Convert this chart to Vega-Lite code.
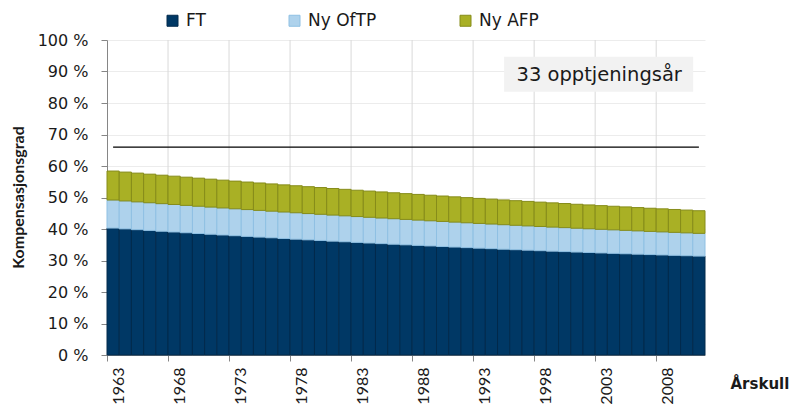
{
  "$schema": "https://vega.github.io/schema/vega-lite/v6.json",
  "autosize": "none",
  "width": 598,
  "height": 315,
  "padding": {"left": 107, "top": 40, "right": 88, "bottom": 55},
  "background": "white",
  "config": {
    "font": "DejaVu Sans",
    "view": {"stroke": null},
    "axis": {"labelColor": "#1a1a1a", "titleColor": "#1a1a1a"},
    "axisY": {"labelOverlap": false, "tickCount": 12}
  },
  "layer": [
    {
      "data": {"values": [{"g": 1968}, {"g": 1973}, {"g": 1978}, {"g": 1983}, {"g": 1988}, {"g": 1993}, {"g": 1998}, {"g": 2003}, {"g": 2008}]},
      "mark": {"type": "rule", "color": "#d9d9d9", "strokeWidth": 1},
      "encoding": {
        "x": {"field": "g", "type": "ordinal", "bandPosition": 0}
      }
    },
    {
      "data": {
        "values": [
          {"year": 1963, "FT": 40.30, "Ny OfTP": 8.90, "Ny AFP": 9.20},
          {"year": 1964, "FT": 40.04, "Ny OfTP": 8.87, "Ny AFP": 9.16},
          {"year": 1965, "FT": 39.79, "Ny OfTP": 8.83, "Ny AFP": 9.12},
          {"year": 1966, "FT": 39.54, "Ny OfTP": 8.80, "Ny AFP": 9.07},
          {"year": 1967, "FT": 39.29, "Ny OfTP": 8.76, "Ny AFP": 9.03},
          {"year": 1968, "FT": 39.05, "Ny OfTP": 8.73, "Ny AFP": 8.99},
          {"year": 1969, "FT": 38.81, "Ny OfTP": 8.69, "Ny AFP": 8.95},
          {"year": 1970, "FT": 38.57, "Ny OfTP": 8.66, "Ny AFP": 8.91},
          {"year": 1971, "FT": 38.34, "Ny OfTP": 8.62, "Ny AFP": 8.86},
          {"year": 1972, "FT": 38.10, "Ny OfTP": 8.59, "Ny AFP": 8.82},
          {"year": 1973, "FT": 37.87, "Ny OfTP": 8.55, "Ny AFP": 8.78},
          {"year": 1974, "FT": 37.65, "Ny OfTP": 8.52, "Ny AFP": 8.74},
          {"year": 1975, "FT": 37.43, "Ny OfTP": 8.48, "Ny AFP": 8.70},
          {"year": 1976, "FT": 37.21, "Ny OfTP": 8.45, "Ny AFP": 8.65},
          {"year": 1977, "FT": 36.99, "Ny OfTP": 8.41, "Ny AFP": 8.61},
          {"year": 1978, "FT": 36.78, "Ny OfTP": 8.38, "Ny AFP": 8.57},
          {"year": 1979, "FT": 36.56, "Ny OfTP": 8.34, "Ny AFP": 8.53},
          {"year": 1980, "FT": 36.36, "Ny OfTP": 8.31, "Ny AFP": 8.49},
          {"year": 1981, "FT": 36.15, "Ny OfTP": 8.27, "Ny AFP": 8.44},
          {"year": 1982, "FT": 35.95, "Ny OfTP": 8.24, "Ny AFP": 8.40},
          {"year": 1983, "FT": 35.75, "Ny OfTP": 8.20, "Ny AFP": 8.36},
          {"year": 1984, "FT": 35.55, "Ny OfTP": 8.17, "Ny AFP": 8.32},
          {"year": 1985, "FT": 35.36, "Ny OfTP": 8.13, "Ny AFP": 8.28},
          {"year": 1986, "FT": 35.17, "Ny OfTP": 8.10, "Ny AFP": 8.23},
          {"year": 1987, "FT": 34.98, "Ny OfTP": 8.06, "Ny AFP": 8.19},
          {"year": 1988, "FT": 34.80, "Ny OfTP": 8.03, "Ny AFP": 8.15},
          {"year": 1989, "FT": 34.62, "Ny OfTP": 7.99, "Ny AFP": 8.11},
          {"year": 1990, "FT": 34.44, "Ny OfTP": 7.96, "Ny AFP": 8.07},
          {"year": 1991, "FT": 34.27, "Ny OfTP": 7.92, "Ny AFP": 8.02},
          {"year": 1992, "FT": 34.09, "Ny OfTP": 7.89, "Ny AFP": 7.98},
          {"year": 1993, "FT": 33.92, "Ny OfTP": 7.85, "Ny AFP": 7.94},
          {"year": 1994, "FT": 33.76, "Ny OfTP": 7.82, "Ny AFP": 7.90},
          {"year": 1995, "FT": 33.59, "Ny OfTP": 7.78, "Ny AFP": 7.86},
          {"year": 1996, "FT": 33.43, "Ny OfTP": 7.75, "Ny AFP": 7.81},
          {"year": 1997, "FT": 33.28, "Ny OfTP": 7.71, "Ny AFP": 7.77},
          {"year": 1998, "FT": 33.12, "Ny OfTP": 7.68, "Ny AFP": 7.73},
          {"year": 1999, "FT": 32.97, "Ny OfTP": 7.64, "Ny AFP": 7.69},
          {"year": 2000, "FT": 32.83, "Ny OfTP": 7.61, "Ny AFP": 7.65},
          {"year": 2001, "FT": 32.68, "Ny OfTP": 7.57, "Ny AFP": 7.60},
          {"year": 2002, "FT": 32.54, "Ny OfTP": 7.54, "Ny AFP": 7.56},
          {"year": 2003, "FT": 32.40, "Ny OfTP": 7.50, "Ny AFP": 7.52},
          {"year": 2004, "FT": 32.27, "Ny OfTP": 7.47, "Ny AFP": 7.48},
          {"year": 2005, "FT": 32.14, "Ny OfTP": 7.43, "Ny AFP": 7.44},
          {"year": 2006, "FT": 32.01, "Ny OfTP": 7.40, "Ny AFP": 7.39},
          {"year": 2007, "FT": 31.88, "Ny OfTP": 7.36, "Ny AFP": 7.35},
          {"year": 2008, "FT": 31.76, "Ny OfTP": 7.33, "Ny AFP": 7.31},
          {"year": 2009, "FT": 31.64, "Ny OfTP": 7.29, "Ny AFP": 7.27},
          {"year": 2010, "FT": 31.52, "Ny OfTP": 7.26, "Ny AFP": 7.23},
          {"year": 2011, "FT": 31.40, "Ny OfTP": 7.22, "Ny AFP": 7.18}
        ]
      },
      "transform": [
        {"fold": ["FT", "Ny OfTP", "Ny AFP"], "as": ["serie", "verdi"]},
        {
          "lookup": "serie",
          "from": {
            "data": {"values": [{"serie": "FT", "rekkefolge": 1}, {"serie": "Ny OfTP", "rekkefolge": 2}, {"serie": "Ny AFP", "rekkefolge": 3}]},
            "key": "serie",
            "fields": ["rekkefolge"]
          }
        }
      ],
      "mark": {"type": "bar", "strokeWidth": 1},
      "encoding": {
        "x": {
          "field": "year",
          "type": "ordinal",
          "scale": {"paddingInner": 0, "paddingOuter": 0},
          "axis": {
            "values": [1963, 1968, 1973, 1978, 1983, 1988, 1993, 1998, 2003, 2008],
            "bandPosition": 0,
            "labelOffset": 6,
            "labelAngle": -90,
            "labelAlign": "right",
            "labelBaseline": "middle",
            "labelFont": "Lato",
            "labelFontSize": 16,
            "labelPadding": 6,
            "tickSize": 6,
            "tickColor": "#868686",
            "domainColor": "#868686",
            "grid": false,
            "title": "Årskull",
            "titleFont": "DejaVu Sans",
            "titleFontSize": 15,
            "titleFontWeight": "bold",
            "titleX": 623,
            "titleY": 28,
            "titleAlign": "left",
            "titleBaseline": "middle",
            "titleAngle": 0
          }
        },
        "y": {
          "field": "verdi",
          "type": "quantitative",
          "stack": "zero",
          "scale": {"domain": [0, 100]},
          "axis": {
            "values": [0, 10, 20, 30, 40, 50, 60, 70, 80, 90, 100],
            "tickCount": 12,
            "labelOverlap": false,
            "labelExpr": "datum.value + ' %'",
            "labelFont": "DejaVu Sans",
            "labelFontSize": 16,
            "labelPadding": 13,
            "tickSize": 6,
            "tickColor": "#868686",
            "domainColor": "#868686",
            "gridColor": "#ececec",
            "title": "Kompensasjonsgrad",
            "titleFont": "Lato",
            "titleFontSize": 16,
            "titleFontWeight": "bold",
            "titleX": -89,
            "titleY": 157,
            "titleAlign": "center",
            "titleBaseline": "middle",
            "titleAngle": -90
          }
        },
        "color": {
          "field": "serie",
          "type": "nominal",
          "sort": ["FT", "Ny OfTP", "Ny AFP"],
          "scale": {"domain": ["FT", "Ny OfTP", "Ny AFP"], "range": ["#003865", "#aed2ec", "#a9b025"]},
          "legend": {
            "title": null,
            "orient": "none",
            "legendX": 57,
            "legendY": -28,
            "direction": "horizontal",
            "symbolType": "square",
            "symbolSize": 121,
            "symbolStrokeWidth": 1,
            "labelFontSize": 17,
            "labelFont": "DejaVu Sans",
            "labelColor": "#1a1a1a",
            "labelOffset": 5,
            "columnPadding": 80
          }
        },
        "stroke": {
          "field": "serie",
          "type": "nominal",
          "sort": ["FT", "Ny OfTP", "Ny AFP"],
          "scale": {"domain": ["FT", "Ny OfTP", "Ny AFP"], "range": ["#022a4c", "#8fc0e3", "#868c1a"]},
          "legend": null
        },
        "order": {"field": "rekkefolge", "type": "quantitative", "sort": "ascending"}
      }
    },
    {
      "data": {"values": [{"x1": 1995, "x2": 2011, "y1": 83.6, "y2": 94.7}]},
      "mark": {"type": "rect", "color": "#f2f2f2"},
      "encoding": {
        "x": {"field": "x1", "type": "ordinal", "bandPosition": 0.54},
        "x2": {"field": "x2", "bandPosition": 0.03},
        "y": {"field": "y1", "type": "quantitative"},
        "y2": {"field": "y2"}
      }
    },
    {
      "data": {"values": [{"tx": 2003, "ty": 88.9, "label": "33 opptjeningsår"}]},
      "mark": {"type": "text", "fontSize": 19.5, "color": "#1a1a1a", "font": "DejaVu Sans"},
      "encoding": {
        "x": {"field": "tx", "type": "ordinal", "bandPosition": 0.33},
        "y": {"field": "ty", "type": "quantitative"},
        "text": {"field": "label"}
      }
    },
    {
      "data": {"values": [{"a": 1963, "b": 2011, "nivå": 66}]},
      "mark": {"type": "rule", "color": "#000000", "strokeWidth": 1.2},
      "encoding": {
        "x": {"field": "a", "type": "ordinal"},
        "x2": {"field": "b"},
        "y": {"field": "nivå", "type": "quantitative"}
      }
    }
  ]
}
